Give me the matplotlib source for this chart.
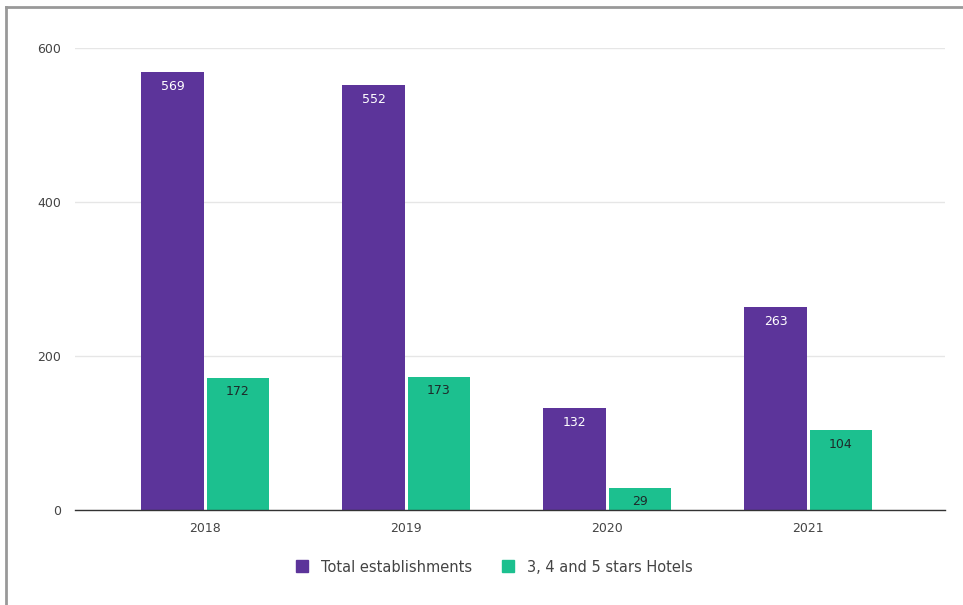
import numpy as np
import matplotlib.pyplot as plt
from matplotlib.lines import Line2D

# Data
years = ["2018", "2019", "2020", "2021"]
total = [569, 552, 132, 263]
hotels = [172, 173, 29, 104]
yticks = [0, 200, 400, 600]

purple = "#5c349a"
green = "#1cc08f"

fig = plt.figure(figsize=(9.63, 6.05), dpi=100)
ax = fig.add_axes([75 / 963, 95 / 605, 870 / 963, 462 / 605])

x = np.arange(len(years))
w = 0.31
gap = 0.015
b1 = ax.bar(x - w / 2 - gap / 2, total, w, color=purple, zorder=3,
            label="Total establishments")
b2 = ax.bar(x + w / 2 + gap / 2, hotels, w, color=green, zorder=3,
            label="3, 4 and 5 stars Hotels")

# value labels inside top of bars
for rect, v in zip(b1, total):
    ax.text(rect.get_x() + rect.get_width() / 2, v - 10, str(v),
            ha="center", va="top", color="white", fontsize=9, zorder=4)
for rect, v in zip(b2, hotels):
    ax.text(rect.get_x() + rect.get_width() / 2, v - 10, str(v),
            ha="center", va="top", color="#1e2a2a", fontsize=9, zorder=4)

ax.set_xlim(-0.647, 3.68)
ax.set_ylim(0, 600)
ax.set_yticks(yticks)
ax.set_xticks(x)
ax.set_xticklabels(years)
ax.tick_params(axis="both", length=0, labelsize=9, colors="#444444")
ax.tick_params(axis="y", pad=10)
ax.tick_params(axis="x", pad=9)
ax.grid(axis="y", color="#e6e6e6", linewidth=1, zorder=0)
for s in ["top", "right", "left"]:
    ax.spines[s].set_visible(False)
ax.spines["bottom"].set_color("#333333")
ax.spines["bottom"].set_linewidth(1)
ax.spines["bottom"].set_zorder(5)

handles = [Line2D([], [], marker="s", ls="", color=purple, markersize=9),
           Line2D([], [], marker="s", ls="", color=green, markersize=9)]
fig.legend(handles, ["Total establishments", "3, 4 and 5 stars Hotels"],
           loc="center", bbox_to_anchor=(490 / 963, 1 - 567 / 605), ncol=2,
           frameon=False, fontsize=10.5, handletextpad=0.3, columnspacing=1.5,
           labelcolor="#444444")

# gray frame on left and top edges
fig.add_artist(Line2D([6 / 963, 6 / 963], [0, 1 - 7 / 605], color="#999999",
                      lw=2, transform=fig.transFigure))
fig.add_artist(Line2D([6 / 963, 1], [1 - 7 / 605, 1 - 7 / 605], color="#999999",
                      lw=2, transform=fig.transFigure))

fig.savefig("out.png", dpi=100)
